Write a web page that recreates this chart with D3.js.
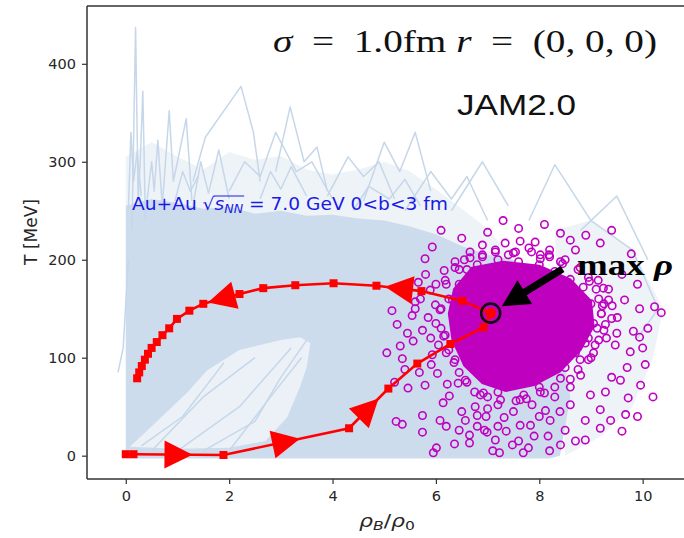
<!DOCTYPE html>
<html><head><meta charset="utf-8">
<script src="https://cdn.jsdelivr.net/npm/d3@7"></script>
<style>body{margin:0;background:#fff}svg{display:block}</style>
</head><body>
<svg id="chart" width="684" height="538"></svg>
<script>
// ---- axis ticks ----
const xTicks = [0, 2, 4, 6, 8, 10];
const yTicks = [0, 100, 200, 300, 400];

// ---- event ensemble (rho_B/rho_0, T[MeV]) ----
// upper edge of the densely covered region
const bandEdge = [[0,-3],[0,255],[0.5,262],[1,258],[1.5,252],[2,254],[2.5,247],[3,250],[3.5,245],[4,246],[4.5,242],[5,240],[5.5,234],[6,226],[6.5,214],[7,205],[7.5,200],[8.3,150],[8.6,60],[8.4,0],[8.2,-3]];
// sparser region above it
const bandHalo = [[0,250],[0,305],[0.5,320],[1,305],[1.5,292],[2,310],[2.5,302],[3,306],[3.5,292],[4,287],[4.5,292],[5,300],[5.5,290],[6,272],[6.5,252],[7,232],[7.5,200]];
// sparse tails at high density
const bandTail = [[8.3,230],[9.0,240],[9.8,210],[10.4,150],[10.2,100],[9.8,50],[9.2,20],[8.5,0]];
// thinly populated pocket at low T
const bandGap = [[0.08,9],[0.6,35],[1.2,65],[1.57,87],[2.2,108],[3.0,118],[3.37,121],[3.57,115],[3.5,90],[3.37,70],[3.12,39],[2.7,15],[2.0,8],[1.0,7]];
// individual trajectories standing out of the ensemble
const tracks = [
  [[0.12,230],[0.19,437],[0.24,260],[0.28,300],[0.33,372],[0.38,240]],
  [[0.7,250],[0.84,352],[0.92,280],[1.0,300],[1.17,344],[1.28,260]],
  [[1.3,280],[1.54,325],[2.23,377],[2.47,330],[2.6,280]],
  [[2.9,290],[3.18,356],[3.45,300],[3.7,315],[3.9,270]],
  [[4.6,260],[5.0,320],[5.3,290],[5.6,330],[5.9,270]],
  [[6.3,250],[6.9,300],[7.4,255]],
  [[7.8,240],[8.3,297],[9.0,240],[9.8,210],[10.3,150],[9.9,120]],
  [[8.8,230],[9.5,265],[10.1,200]],
  [[-0.15,85],[-0.05,110],[0.05,200]],
  [[0.05,250],[0.1,330],[0.15,280],[0.22,310],[0.3,265]],
  [[0.4,255],[0.5,300],[0.55,270],[0.62,322],[0.7,260]],
  [[1.3,255],[1.45,300],[1.6,268],[1.8,312],[2.0,262]],
  [[2.0,270],[2.3,300],[2.6,285],[2.9,330],[3.3,290],[3.6,300],[4.0,262]],
  [[3.9,265],[4.3,305],[4.6,285],[4.9,300],[5.2,262]],
  [[5.4,250],[5.9,290],[6.3,262],[6.6,285],[7.0,240]],
  [[0.95,260],[1.1,290],[1.25,270],[1.4,285]],
  [[2.6,262],[2.8,290],[3.0,272],[3.2,295],[3.5,265]],
  [[4.4,250],[4.7,275],[5.1,262],[5.4,282],[5.7,255]],
  [[0.5,5],[1.5,60],[2.5,100]],
  [[1.0,5],[2.2,50],[3.2,110]],
  [[2.0,5],[2.8,60],[3.4,100]],
  [[0.3,10],[1.1,40],[1.9,95]],
  [[1.5,5],[2.5,35],[3.0,80],[3.5,118]]
];

// ---- point of maximum density for each event ----
const maxCore = [[6.35,170],[6.7,192],[7.3,198],[8.0,194],[8.6,180],[9.0,158],[9.05,132],[8.8,108],[8.4,86],[7.9,72],[7.35,66],[6.9,74],[6.55,92],[6.32,118],[6.25,145]];
const maxPoints = [
  [5.79,201],[6.16,189],[5.66,177],[5.60,157],[5.54,143],[5.25,134],[5.74,128],[5.56,117],[5.31,112],[5.35,99],
  [5.91,93],[5.68,85],[6.03,84],[5.46,69],[6.22,73],[6.43,74],[6.26,61],[5.74,41],[5.23,35],[5.35,32],
  [5.74,24],[6.14,54],[6.45,26],[6.65,21],[6.99,24],[6.65,13],[6.36,12],[6.01,8],[5.95,3],[6.76,50],
  [6.92,64],[6.80,41],[7.32,39],[7.36,25],[7.23,3],[7.69,3],[7.79,8],[7.48,11],[6.94,26],[6.97,40],
  [7.86,52],[8.41,227],[9.18,217],[9.78,206],[6.90,215],[7.34,217],[7.63,219],[8.19,205],[8.02,201],[8.97,178],
  [9.65,159],[9.94,150],[10.23,152],[10.36,146],[9.41,153],[9.22,153],[9.51,141],[9.82,127],[9.94,121],[9.12,130],
  [9.30,120],[8.89,126],[8.95,139],[8.89,115],[9.24,171],[9.34,170],[5.93,213],[6.37,198],[6.66,208],[8.70,210],
  [8.60,220],[7.92,218],[9.47,113],[9.76,106],[10.05,93],[9.96,72],[9.57,77],[9.28,65],[9.18,47],[8.89,36],
  [8.50,26],[8.17,20],[8.41,11],[8.89,16],[9.38,36],[9.72,59],[8.99,62],[8.60,52],[8.21,36],[7.63,31],
  [7.15,16],[7.83,31],[8.12,46],[9.18,28],[9.67,42],[6.18,179],[6.32,159],[6.08,149],[6.18,123],[6.37,98],
  [6.57,77],[6.86,62],[7.25,57],[7.63,57],[8.02,65],[8.41,79],[8.79,98],[9.08,113],[9.28,134],[9.34,159],
  [9.14,179],[8.79,192],[8.41,198],[8.02,205],[7.54,208],[7.15,208],[6.66,202],[6.37,192],[5.89,169],[5.99,154],
  [5.85,141],[6.05,113],[5.93,103],[5.79,72],[6.57,36],[6.08,36],
  [6.45,175],[6.35,150],[6.40,130],[6.50,112],[6.60,95],[6.75,88],
  [6.80,195],[7.20,200],[7.60,198],[8.00,195],[8.30,188],[8.60,180],[7.00,190],[7.40,205],[7.80,212],[8.20,210],[8.50,200],[6.60,190],[6.90,205],
  [8.85,172],[9.00,155],[9.05,135],[8.95,120],[9.20,145],[9.15,160],[9.40,140],[9.50,125],[9.00,100],[8.70,105],
  [8.50,90],[8.20,85],[7.80,78],[7.40,74],[7.10,78],[6.90,82],[8.00,70],[7.70,62],[7.20,65],[8.30,60],[8.60,70],[8.80,82],
  [7.00,48],[7.50,45],[8.00,40],[8.40,45],[7.20,30],[7.90,20],[8.20,5],[7.60,15],[6.80,30],[6.50,45],[7.10,5],[8.70,15],[6.20,30],
  [7.00,228],[7.60,232],[8.10,236],[6.50,222],[6.10,230],[8.90,225],[9.40,230],[7.30,240],
  [5.80,185],[6.00,175],[5.70,160],[6.10,130],[5.90,120],[6.20,105],[5.60,150],[5.45,125],[5.15,148],[5.05,105],[5.40,88],[5.20,75],
  [9.60,185],[9.90,175],[10.10,130],[10.00,110],[9.70,90],[9.40,80],[9.90,40],[10.20,60],[9.60,25],
  [6.20,175],[6.45,190],[6.90,203],[7.50,207],[8.20,203],[8.75,190],[9.10,170],[9.20,145],[9.15,118],[8.95,98],
  [8.60,78],[8.10,64],[7.55,56],[7.00,60],[6.60,75],[6.35,95],[6.15,122],[6.10,150],[6.25,160],[6.55,200],
  [7.15,210],[7.85,208],[8.45,196],[8.95,182],[9.25,155],[9.25,128],[9.05,105],[8.75,88],[8.30,70],[7.75,58],
  [7.20,52],[6.75,65],[6.45,85],[6.25,108],[6.00,135]
];

// ---- mean trajectory of the central cell ----
const pathRho = [0.0, 0.15, 1.89, 4.32, 5.08, 5.64, 6.28, 6.92, 7.06, 6.51, 5.72, 4.85, 4.02, 3.28, 2.66, 2.20, 1.50, 1.23, 0.99, 0.84, 0.71, 0.60, 0.50, 0.43, 0.37, 0.31, 0.26, 0.22];
const pathT   = [1.5, 1.5, 0.7, 28, 68.5, 94, 114, 131, 145.5, 158, 168, 173.5, 176, 174, 171, 165, 155, 148, 139.6, 130, 123, 116, 110, 104, 98, 91.5, 85, 79];
const arrowSegments = [1, 2, 3, 10, 15];   // direction arrows at these segment midpoints
const maxIndex = 8;                        // step with the highest density
const maxLabelTail = [8.45, 190.6];

const svg = d3.select('#chart');
const W = 684, H = 538;
const mLeft = 87, mRight = 683.5, mTop = 6, mBottom = 479;
const x = d3.scaleLinear().domain([-0.75, 10.79]).range([mLeft, mRight]);
const y = d3.scaleLinear().domain([-23.8, 459]).range([mBottom, mTop]);

svg.append('defs').append('clipPath').attr('id', 'plotclip')
  .append('rect').attr('x', mLeft).attr('y', mTop).attr('width', W - mLeft).attr('height', mBottom - mTop);

const plot = svg.append('g').attr('clip-path', 'url(#plotclip)');
const line = d3.line().x(d => x(d[0])).y(d => y(d[1]));
const area = d3.line().x(d => x(d[0])).y(d => y(d[1])).curve(d3.curveLinearClosed);

const blue = '#cddcec';
plot.append('path').attr('d', area(bandHalo)).attr('fill', blue).attr('opacity', 0.35);
plot.append('path').attr('d', area(bandTail)).attr('fill', blue).attr('opacity', 0.35);
plot.append('path').attr('d', area(bandEdge)).attr('fill', blue);
plot.append('path').attr('d', area(bandGap)).attr('fill', '#fff').attr('opacity', 0.6);
plot.selectAll('path.track').data(tracks).join('path').attr('class', 'track')
  .attr('d', line).attr('fill', 'none').attr('stroke', '#c6d7ea').attr('stroke-width', 1.5)
  .attr('stroke-linejoin', 'round');

// maxima of individual events
const mag = '#bf00bf';
plot.append('path').attr('d', area(maxCore)).attr('fill', mag).attr('stroke', mag).attr('stroke-width', 2);
plot.selectAll('circle.mx').data(maxPoints).join('circle').attr('class', 'mx')
  .attr('cx', d => x(d[0])).attr('cy', d => y(d[1])).attr('r', 3.7)
  .attr('fill', 'none').attr('stroke', mag).attr('stroke-width', 1.6);

// mean trajectory
const pathPts = pathRho.map((r, i) => [r, pathT[i]]);
plot.append('path').attr('d', line(pathPts)).attr('fill', 'none').attr('stroke', 'red').attr('stroke-width', 2.6);
plot.selectAll('rect.sq').data(pathPts.filter((d, i) => i !== maxIndex)).join('rect').attr('class', 'sq')
  .attr('x', d => x(d[0]) - 4).attr('y', d => y(d[1]) - 4).attr('width', 8).attr('height', 8).attr('fill', 'red');
const aL = 28, aW = 28;
plot.selectAll('path.dir').data(arrowSegments).join('path').attr('class', 'dir')
  .attr('d', `M${aL / 2},0L${-aL / 2},${aW / 2}L${-aL / 2},${-aW / 2}Z`)
  .attr('fill', 'red')
  .attr('transform', i => {
    const a = pathPts[i], b = pathPts[i + 1];
    const x0 = x(a[0]), y0 = y(a[1]), x1 = x(b[0]), y1 = y(b[1]);
    const ang = Math.atan2(y1 - y0, x1 - x0) * 180 / Math.PI;
    return `translate(${(x0 + x1) / 2},${(y0 + y1) / 2}) rotate(${ang})`;
  });
const mp = pathPts[maxIndex];
plot.append('circle').attr('cx', x(mp[0])).attr('cy', y(mp[1])).attr('r', 5.5).attr('fill', 'red');
plot.append('circle').attr('cx', x(mp[0])).attr('cy', y(mp[1])).attr('r', 9.5)
  .attr('fill', 'none').attr('stroke', '#111').attr('stroke-width', 2.6);

// annotation arrow
{
  const tx = x(maxLabelTail[0]), ty = y(maxLabelTail[1]);
  const a0 = Math.atan2(ty - y(mp[1]), tx - x(mp[0]));
  const hx = x(mp[0]) + 13 * Math.cos(a0);
  const hy = y(mp[1]) + 13 * Math.sin(a0);
  const len = Math.hypot(tx - hx, ty - hy);
  const ang = Math.atan2(hy - ty, hx - tx) * 180 / Math.PI;
  const sw = 3.6, hl = 27, hw = 14;
  svg.append('path')
    .attr('d', `M0,${-sw}L${len - hl},${-sw}L${len - hl},${-hw}L${len},0L${len - hl},${hw}L${len - hl},${sw}L0,${sw}Z`)
    .attr('fill', '#000').attr('transform', `translate(${tx},${ty}) rotate(${ang})`);
}

// axes
const tickFont = 'DejaVu Sans, sans-serif';
const xAxis = svg.append('g').attr('transform', `translate(0,${mBottom})`)
  .call(d3.axisBottom(x).tickValues(xTicks).tickSize(5).tickPadding(7).tickFormat(d3.format('d')));
const yAxis = svg.append('g').attr('transform', `translate(${mLeft},0)`)
  .call(d3.axisLeft(y).tickValues(yTicks).tickSize(5).tickPadding(6).tickFormat(d3.format('d')));
[xAxis, yAxis].forEach(g => {
  g.select('.domain').remove();
  g.selectAll('line').attr('stroke', '#333').attr('stroke-width', 1.2);
  g.selectAll('text').attr('font-family', tickFont).attr('font-size', 14.5).attr('fill', '#262626');
});
const spine = svg.append('g').attr('stroke', '#333').attr('stroke-width', 1.5).attr('fill', 'none');
spine.append('line').attr('x1', mLeft).attr('x2', mLeft).attr('y1', mTop).attr('y2', mBottom);
spine.append('line').attr('x1', mLeft).attr('x2', W).attr('y1', mBottom).attr('y2', mBottom);
spine.append('line').attr('x1', mLeft).attr('x2', W).attr('y1', mTop).attr('y2', mTop);

// text made of styled pieces, stretched horizontally to span [x0, x1]
function fitRun(x0, x1, yb, pieces, base) {
  const g = svg.append('g');
  let cx = 0;
  const out = [];
  pieces.forEach(p => {
    const t = g.append('text').attr('x', cx).attr('y', p.dy || 0).text(p.t)
      .attr('font-family', p.family || base.family).attr('font-size', p.size || base.size)
      .attr('font-style', p.italic ? 'italic' : 'normal').attr('font-weight', base.weight || 'normal')
      .attr('fill', base.fill).style('white-space', 'pre');
    const w = t.node().getComputedTextLength();
    out.push({ x: cx, w: w });
    cx += w;
  });
  const sx = x1 == null ? 1 : (x1 - x0) / cx;
  g.attr('transform', `translate(${x0},${yb}) scale(${sx},1)`);
  return { g: g, parts: out };
}

// axis labels
svg.append('text').attr('transform', 'translate(37,232) rotate(-90)').attr('text-anchor', 'middle')
  .attr('font-family', tickFont).attr('font-size', 17).attr('fill', '#262626').text('T [MeV]');
fitRun(359, 415, 527, [
  { t: 'ρ', italic: true }, { t: 'B', italic: true, size: 12, dy: 3 }, { t: '/' }, { t: 'ρ', italic: true }, { t: '0', size: 12, dy: 3 }
], { family: tickFont, size: 17, fill: '#262626' });

// title
fitRun(273, 657, 52, [
  { t: 'σ', italic: true }, { t: '  =  ' }, { t: '1.0fm ' }, { t: 'r', italic: true }, { t: '  =  ' }, { t: '(0, 0, 0)' }
], { family: 'Liberation Serif, serif', size: 32, fill: '#111' });

fitRun(457, 576, 115, [{ t: 'JAM2.0' }], { family: 'Liberation Sans, Arial, sans-serif', size: 30, fill: '#111' });

// collision system label
{
  const r = fitRun(132, 448, 210, [
    { t: 'Au+Au ' }, { t: '√' }, { t: 's', italic: true }, { t: 'NN', italic: true, size: 11.5, dy: 3 },
    { t: ' = 7.0 GeV 0<b<3 fm' }
  ], { family: tickFont, size: 17, fill: '#1a1ae6' });
  const p = r.parts;
  r.g.append('line').attr('x1', p[1].x + p[1].w - 1).attr('x2', p[3].x + p[3].w + 1)
    .attr('y1', -14).attr('y2', -14).attr('stroke', '#1a1ae6').attr('stroke-width', 1);
}

// max rho label
fitRun(577, 673, 275, [{ t: 'max ' }, { t: 'ρ', italic: true }], { family: 'Liberation Serif, serif', size: 30, fill: '#000', weight: 'bold' });
</script>
</body></html>
